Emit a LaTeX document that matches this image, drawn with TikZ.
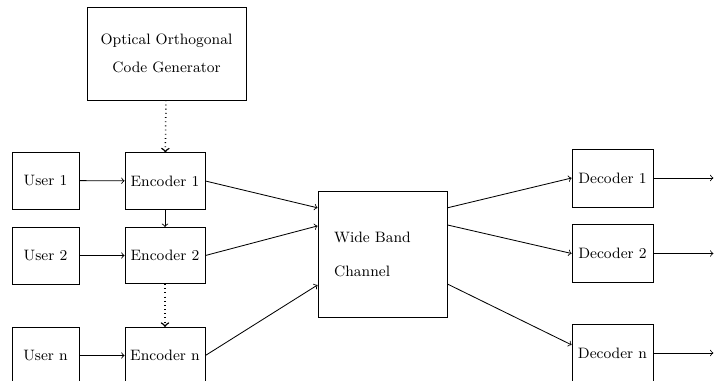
\documentclass[tikz,border=0pt]{standalone}
\usepackage{tikz}
\usetikzlibrary{arrows.meta,positioning,calc}

\begin{document}
\begin{tikzpicture}[x=0.021cm, y=-0.021cm, every node/.style={align=center, font=\small}]
\tikzset{
  block/.style={draw=black, line width=0.5pt, inner sep=2pt},
  genbox/.style={block, minimum width=3.34cm, minimum height=1.95cm},
  userbox/.style={block, minimum width=1.41cm, minimum height=1.20cm},
  encbox/.style={block, minimum width=1.68cm, minimum height=1.18cm},
  decbox/.style={block, minimum width=1.70cm, minimum height=1.22cm},
  chanbox/.style={block, align=left, text width=2.03cm, inner sep=0.34cm, minimum height=2.63cm},
  flow/.style={-to, draw=black, line width=0.5pt},
  codeflow/.style={flow, dotted, line width=0.9pt}
}
\useasboundingbox (0,0) rectangle (714,381);
\node[genbox] (gen) at (166.5,53.5) {Optical Orthogonal\\[6pt]Code Generator};
\node[userbox] (user1) at (45.5,180.5) {User 1};
\node[userbox] (user2) at (45.5,255.5) {User 2};
\node[userbox] (usern) at (45.5,355.5) {User n};
\node[encbox] (enc1) at (165,181) {Encoder 1};
\node[encbox] (enc2) at (165,255.5) {Encoder 2};
\node[encbox] (encn) at (165,355.5) {Encoder n};
\node[chanbox] (chan) at (382.5,254.5) {Wide Band\\[9pt]Channel};
\node[decbox] (dec1) at (612.5,178) {Decoder 1};
\node[decbox] (dec2) at (612.5,253.5) {Decoder 2};
\node[decbox] (decn) at (612.5,353) {Decoder n};
\coordinate (out1) at ([xshift=1.26cm]dec1.east);
\coordinate (out2) at ([xshift=1.26cm]dec2.east);
\coordinate (outn) at ([xshift=1.26cm]decn.east);
\draw[codeflow] (gen) -- (enc1);
\draw[flow] (enc1) -- (enc2);
\draw[codeflow] (enc2) -- (encn);
\draw[flow] (user1) -- (enc1);
\draw[flow] (user2) -- (enc2);
\draw[flow] (usern) -- (encn);
\draw[flow] (enc1.east) -- ([yshift=0.98cm]chan.west);
\draw[flow] (enc2.east) -- ([yshift=0.60cm]chan.west);
\draw[flow] (encn.east) -- ([yshift=-0.64cm]chan.west);
\draw[flow] ([yshift=0.98cm]chan.east) -- (dec1.west);
\draw[flow] ([yshift=0.62cm]chan.east) -- (dec2.west);
\draw[flow] ([yshift=-0.62cm]chan.east) -- ([yshift=0.17cm]decn.west);
\draw[flow] (dec1.east) -- (out1);
\draw[flow] (dec2.east) -- (out2);
\draw[flow] (decn.east) -- (outn);
\end{tikzpicture}
\end{document}
